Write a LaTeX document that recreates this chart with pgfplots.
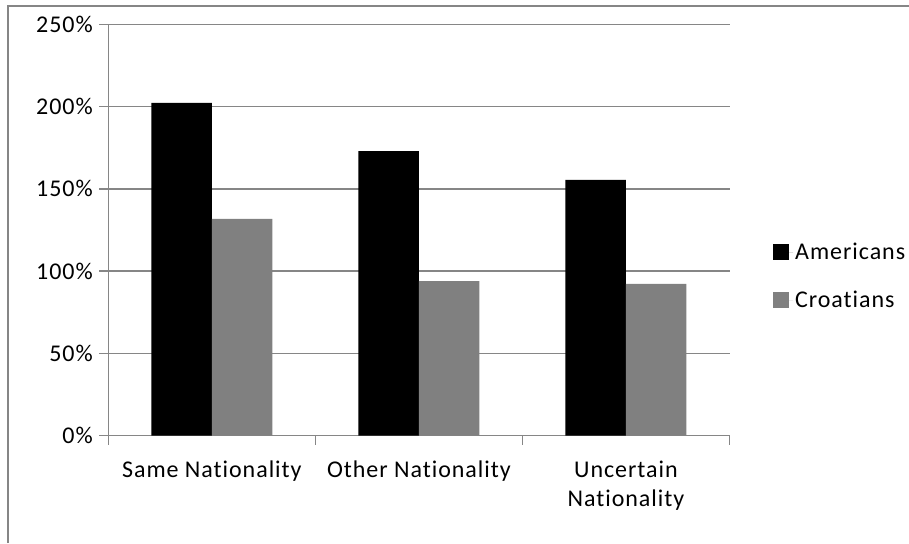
\documentclass[border=0pt]{standalone}
\usepackage{pgfplots}
\pgfplotsset{compat=1.18}
\usepackage{fontspec}
\setmainfont[LetterSpace=4, Ligatures=NoCommon]{Carlito}

\definecolor{framegray}{RGB}{134,134,134}
\definecolor{crogray}{RGB}{128,128,128}

\begin{document}
\begin{tikzpicture}
  % page area and the chart frame (top and left edges visible)
  \useasboundingbox (0pt,0pt) rectangle (909pt,543pt);
  \draw[framegray, line width=2pt] (8pt,0pt) -- (8pt,537pt) -- (909pt,537pt);

  \begin{axis}[
    at={(108.3pt,107.3pt)}, anchor=south west,
    scale only axis, width=621.2pt, height=411.4pt,
    xmin=-0.5, xmax=2.5, ymin=0, ymax=250,
    ybar=0pt, bar width=60.5pt,
    axis x line*=bottom, axis y line*=left,
    axis line style={framegray, line width=1.3pt, -},
    ymajorgrids, grid style={framegray, line width=1.3pt},
    ytick={0,50,100,150,200,250},
    yticklabels={0\%,50\%,100\%,150\%,200\%,250\%},
    xtick={0,1,2},
    xticklabels={Same Nationality, Other Nationality, {Uncertain\\Nationality}},
    minor xtick={-0.5,0.5,1.5,2.5},
    tick align=outside,
    major tick length=9pt, minor tick length=9pt,
    tick style={framegray, line width=1.3pt},
    major x tick style={draw=none},
    tick label style={font=\fontsize{24pt}{29pt}\selectfont, black},
    yticklabel style={xshift=-3pt},
    xticklabel style={align=center, yshift=-13pt},
    legend style={at={(1.070,0.388)}, anchor=west, draw=none, fill=none,
      inner sep=0pt, row sep=26pt, font=\fontsize{24pt}{29pt}\selectfont},
    legend cell align=left,
    % square key followed by a small gap before the entry text
    legend image code/.code={\fill[#1] (0pt,-8pt) rectangle (16pt,8pt);
      \path (0pt,0pt) -- (20pt,0pt);},
  ]
    \addplot[fill=black, draw=none] coordinates {(0,202.2) (1,173.0) (2,155.4)};
    \addplot[fill=crogray, draw=none] coordinates {(0,131.7) (1,94.0) (2,92.2)};
    \legend{Americans, Croatians}
  \end{axis}
\end{tikzpicture}
\end{document}
